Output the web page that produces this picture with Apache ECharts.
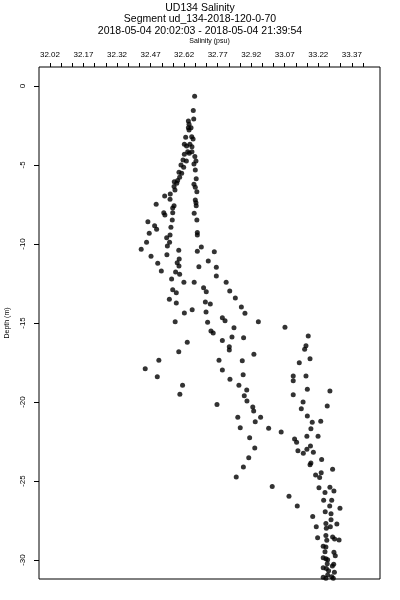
<!DOCTYPE html>
<html>
<head>
<meta charset="utf-8">
<script src="https://cdn.jsdelivr.net/npm/echarts@6/dist/echarts.min.js"></script>
<style>
html,body{margin:0;padding:0;background:#fff;}
#chart{width:400px;height:600px;}
</style>
</head>
<body>
<div id="chart"></div>
<script>
const titleLines = ["UD134 Salinity", "Segment ud_134-2018-120-0-70", "2018-05-04 20:02:03 - 2018-05-04 21:39:54"];
const xName = "Salinity (psu)";
const yName = "Depth (m)";
const xLabelValues = [32.02, 32.17, 32.32, 32.47, 32.62, 32.77, 32.92, 33.07, 33.22, 33.37];
const xTickValues = [32.02,32.07,32.12,32.17,32.22,32.27,32.32,32.37,32.42,32.47,32.52,32.57,32.62,32.67,32.72,32.77,32.82,32.87,32.92,32.97,33.02,33.07,33.12,33.17,33.22,33.27,33.32,33.37,33.42];
const yTickValues = [0, -5, -10, -15, -20, -25, -30];

const salinity = [
32.667,32.661,32.663,32.639,32.642,32.639,32.651,32.642,32.627,32.654,
32.660,32.621,32.631,32.646,32.655,32.621,32.636,32.655,32.643,32.615,
32.630,32.668,32.673,32.664,32.606,32.618,32.670,32.597,32.609,32.600,
32.591,32.576,32.587,32.674,32.664,32.670,32.575,32.579,32.677,32.558,
32.533,32.557,32.670,32.673,32.674,32.495,32.575,32.569,32.569,32.529,
32.534,32.665,32.458,32.567,32.677,32.488,32.497,32.561,32.679,32.679,
32.464,32.557,32.542,32.452,32.555,32.545,32.428,32.596,32.679,32.697,
32.755,32.472,32.543,32.598,32.589,32.597,32.728,32.502,32.686,32.764,
32.518,32.582,32.600,32.764,32.564,32.619,32.665,32.808,32.569,32.585,
32.707,32.719,32.824,32.554,32.585,32.715,32.737,32.849,32.656,32.621,
32.718,32.876,32.892,32.580,32.725,32.791,32.803,32.952,33.071,32.843,
32.740,32.750,32.834,32.886,33.175,32.791,32.634,32.822,32.822,33.165,
33.159,32.596,32.932,33.183,32.507,32.776,32.880,33.135,32.446,32.791,
32.500,32.884,33.108,33.165,32.825,33.108,32.613,32.865,32.900,33.171,
33.272,32.601,32.889,33.108,32.901,33.152,32.767,32.927,32.931,33.144,
33.260,32.860,32.962,33.171,32.938,33.193,33.231,32.871,32.998,33.187,
33.054,33.169,33.219,32.913,33.114,33.123,32.936,33.185,33.169,33.129,
33.153,33.198,32.909,33.235,33.187,33.183,32.885,33.284,33.233,33.208,
33.226,32.853,33.014,33.223,33.250,33.272,33.290,33.089,33.244,33.280,
33.126,33.271,33.317,33.251,33.277,33.195,33.277,33.254,33.274,33.303,
33.211,33.256,33.254,33.284,33.293,33.313,33.217,33.258,33.242,33.254,
33.250,33.290,33.296,33.242,33.254,33.262,33.260,33.289,33.283,33.242,
33.256,33.266,33.292,33.262,33.242,33.280,33.254,33.287
];
const depth = [
-0.65,-1.56,-2.09,-2.22,-2.42,-2.64,-2.64,-2.78,-3.25,-3.21,
-3.35,-3.69,-3.80,-3.69,-3.84,-4.32,-4.16,-4.16,-4.26,-4.68,
-4.75,-4.47,-4.75,-4.94,-5.00,-5.15,-5.32,-5.46,-5.53,-5.78,
-5.99,-6.06,-6.16,-5.87,-6.22,-6.41,-6.37,-6.58,-6.69,-6.84,
-6.96,-7.17,-7.22,-7.39,-7.58,-7.49,-7.58,-7.72,-8.02,-8.02,
-8.16,-8.06,-8.59,-8.48,-8.48,-8.84,-9.07,-8.94,-9.28,-9.43,
-9.32,-9.43,-9.60,-9.89,-9.89,-10.13,-10.34,-10.40,-10.46,-10.19,
-10.49,-10.78,-10.68,-10.95,-11.18,-11.39,-11.08,-11.22,-11.44,-11.47,
-11.71,-11.77,-11.92,-12.03,-12.22,-12.42,-12.42,-12.42,-12.89,-13.08,
-12.77,-13.02,-12.97,-13.50,-13.73,-13.67,-13.80,-13.42,-14.16,-14.37,
-14.30,-13.99,-14.39,-14.92,-14.96,-14.67,-14.85,-14.92,-15.27,-15.30,
-15.51,-15.63,-15.89,-15.93,-15.82,-16.10,-16.22,-16.50,-16.71,-16.44,
-16.66,-16.82,-16.98,-17.26,-17.36,-17.36,-17.39,-17.51,-17.89,-17.97,
-18.40,-18.27,-18.35,-18.35,-18.56,-18.65,-18.94,-18.94,-19.24,-19.20,
-19.30,-19.51,-19.60,-19.54,-19.94,-20.00,-20.15,-20.32,-20.57,-20.42,
-20.25,-20.97,-20.97,-20.89,-21.25,-21.28,-21.22,-21.63,-21.66,-21.69,
-21.90,-22.17,-22.17,-22.26,-22.34,-22.55,-22.91,-22.78,-22.99,-23.08,
-23.25,-23.18,-23.53,-23.63,-23.86,-23.97,-24.11,-24.26,-24.47,-24.62,
-24.77,-24.75,-25.34,-25.42,-25.72,-25.40,-25.63,-25.97,-26.22,-26.22,
-26.58,-26.58,-26.73,-26.94,-27.07,-27.24,-27.45,-27.68,-27.89,-27.72,
-27.89,-27.99,-28.44,-28.54,-28.67,-28.73,-28.59,-28.75,-29.13,-29.18,
-29.47,-29.51,-29.73,-29.85,-29.92,-29.98,-30.23,-30.27,-30.38,-30.49,
-30.53,-30.68,-30.78,-30.95,-31.09,-31.06,-31.16,-31.16
];

const points = salinity.map((s, i) => [s, depth[i]]);
const FONT = 'Liberation Sans, Arial, Helvetica, sans-serif';

const chart = echarts.init(document.getElementById('chart'), null, {renderer: 'canvas'});
chart.setOption({
  animation: false,
  backgroundColor: '#ffffff',
  title: [
    {text: titleLines[0], left: 'center', top: -2, textStyle: {fontFamily: FONT, fontSize: 10.5, fontWeight: 'normal', color: '#000'}},
    {text: titleLines[1], left: 'center', top: 9, textStyle: {fontFamily: FONT, fontSize: 10.5, fontWeight: 'normal', color: '#000'}},
    {text: titleLines[2], left: 'center', top: 21, textStyle: {fontFamily: FONT, fontSize: 10.5, fontWeight: 'normal', color: '#000'}}
  ],
  grid: {left: 39, right: 20, top: 67, bottom: 21, show: true, borderColor: '#000', borderWidth: 1,
         backgroundColor: 'transparent', containLabel: false, outerBoundsMode: 'none'},
  xAxis: {
    type: 'value', position: 'top', min: 31.971, max: 33.496,
    name: xName, nameLocation: 'middle', nameGap: 22,
    nameTextStyle: {fontFamily: FONT, fontSize: 7, color: '#000'},
    axisLine: {show: false, onZero: false},
    axisTick: {show: true, length: 4, customValues: xTickValues, lineStyle: {color: '#000', width: 1}},
    axisLabel: {show: true, customValues: xLabelValues, margin: 8, fontFamily: FONT, fontSize: 8, color: '#000', formatter: v => v.toFixed(2)},
    splitLine: {show: false}
  },
  yAxis: {
    type: 'value', min: -31.2, max: 1.2,
    name: yName, nameLocation: 'middle', nameGap: 28, nameRotate: 90,
    nameTextStyle: {fontFamily: FONT, fontSize: 7, color: '#000'},
    axisLine: {show: false, onZero: false},
    axisTick: {show: true, length: 5, customValues: yTickValues, lineStyle: {color: '#000', width: 1}},
    axisLabel: {show: true, customValues: yTickValues, rotate: 90, margin: 12, fontFamily: FONT, fontSize: 8, color: '#000'},
    splitLine: {show: false}
  },
  series: [{
    type: 'scatter',
    data: points,
    symbol: 'circle',
    symbolSize: 5,
    itemStyle: {color: '#000'},
    silent: true
  }]
});
</script>
</body>
</html>
